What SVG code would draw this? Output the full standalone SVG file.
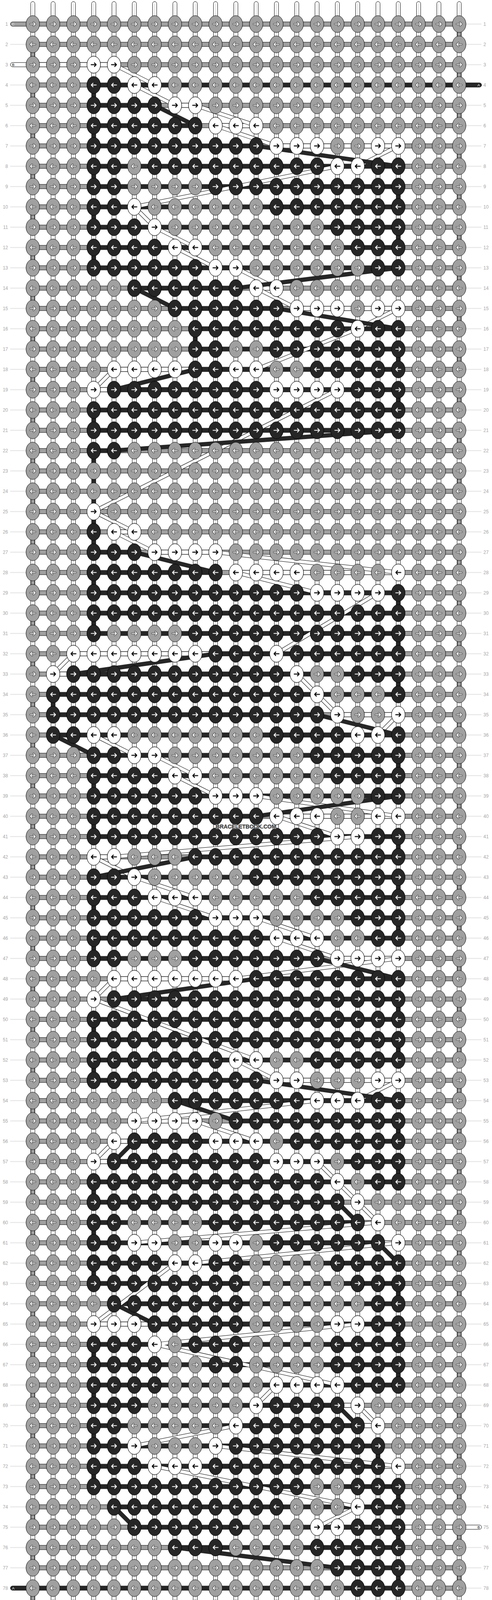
<svg xmlns="http://www.w3.org/2000/svg" width="1260" height="4232" viewBox="0 0 1260 4232">
<style>
.eg{fill:#a0a0a0;stroke:#000;stroke-width:1}
.ed{fill:#262626;stroke:#000;stroke-width:1}
.ew{fill:#fff;stroke:#000;stroke-width:1}
.ao{fill:none;stroke:#303030;stroke-width:4.2;stroke-linecap:round;stroke-linejoin:round}
.aw{fill:none;stroke:#fff;stroke-width:2.1;stroke-linecap:round;stroke-linejoin:round}
.ab{fill:none;stroke:#000;stroke-width:2.4;stroke-linecap:round;stroke-linejoin:round}
.dR{fill:url(#pdR)}.dL{fill:url(#pdL)}.wR{fill:url(#pwR)}.wL{fill:url(#pwL)}
.bw{fill:#fff;stroke:#000;stroke-width:1}
.bd{fill:#262626}
.cA{fill:none;stroke:#262626;stroke-width:11}
.cBo{fill:none;stroke:#000;stroke-width:10}
.cBi{fill:none;stroke:#fff;stroke-width:8}
.sg{fill:#a0a0a0;stroke:#000}.sw{fill:#fff;stroke:#000}.sd{fill:#262626;stroke:#000}
.num{font-family:"Liberation Sans",Arial,sans-serif;font-size:12px;fill:#a6a6a6}
.lab{font-family:"Liberation Sans",Arial,sans-serif;font-size:9.5px;text-anchor:middle}
</style>
<defs>
<path id="aR" d="M-6.5 0H6M1.8-4.6L6.3 0 1.8 4.6"/>
<path id="aL" d="M6.5 0H-6M-1.8-4.6L-6.3 0-1.8 4.6"/>
<g id="kGR"><ellipse class="eg" rx="17.3" ry="21.6"/><use href="#aR" class="ao"/><use href="#aR" class="aw"/></g>
<g id="kGL"><ellipse class="eg" rx="17.3" ry="21.6"/><use href="#aL" class="ao"/><use href="#aL" class="aw"/></g>
<g id="kDR"><ellipse class="ed" rx="17.3" ry="21.6"/><use href="#aR" class="aw"/></g>
<g id="kDL"><ellipse class="ed" rx="17.3" ry="21.6"/><use href="#aL" class="aw"/></g>
<g id="kWR"><ellipse class="ew" rx="17.3" ry="21.6"/><use href="#aR" class="ab"/></g>
<g id="kWL"><ellipse class="ew" rx="17.3" ry="21.6"/><use href="#aL" class="ab"/></g>
<pattern id="pkg" patternUnits="userSpaceOnUse" x="-26" y="26" width="52" height="104"><use href="#kGR" x="26" y="26"/><use href="#kGL" x="26" y="78"/></pattern>
<pattern id="pdR" patternUnits="userSpaceOnUse" x="-26" y="-26" width="52" height="52"><use href="#kDR" x="26" y="26"/></pattern>
<pattern id="pdL" patternUnits="userSpaceOnUse" x="-26" y="-26" width="52" height="52"><use href="#kDL" x="26" y="26"/></pattern>
<pattern id="pwR" patternUnits="userSpaceOnUse" x="-26" y="-26" width="52" height="52"><use href="#kWR" x="26" y="26"/></pattern>
<pattern id="pwL" patternUnits="userSpaceOnUse" x="-26" y="-26" width="52" height="52"><use href="#kWL" x="26" y="26"/></pattern>
<pattern id="pgb" patternUnits="userSpaceOnUse" x="0" y="-26" width="52" height="52"><rect x="-1" y="20.5" width="54" height="11" fill="#a0a0a0" stroke="#000"/></pattern>
<pattern id="pcl" patternUnits="userSpaceOnUse" x="-5.3" y="104" width="10.6" height="104"><rect x="0.5" y="-1" width="9.6" height="54" fill="#a0a0a0" stroke="#000"/></pattern>
<pattern id="pcr" patternUnits="userSpaceOnUse" x="1086.7" y="52" width="10.6" height="104"><rect x="0.5" y="-1" width="9.6" height="54" fill="#a0a0a0" stroke="#000"/></pattern>
<pattern id="pnl" patternUnits="userSpaceOnUse" x="0" y="26" width="52" height="52"><path d="M-1 26H53" stroke="#c4c4c4" stroke-width="1"/></pattern>
<g id="warp"><rect x="-5.3" y="-5.6" width="10.6" height="4223" rx="5.3" fill="#fff" stroke="#000"/><path d="M0-1V4213" stroke="#bdbdbd"/></g>
<path id="bcp" d="M208 156L312 208M260 208L364 260M416 260L572 312M468 312L624 364M936 364L832 416M780 416L260 520M260 520L312 572M312 572L416 624M364 624L468 676M520 676L624 728M572 728L676 780M936 780L832 832M832 832L572 936M208 936L156 988M780 988L156 1300M156 1300L260 1352M208 1352L312 1404M468 1404L936 1456M520 1456L728 1508M884 1508L624 1664M104 1664L52 1716M676 1716L728 1768M728 1768L780 1820M936 1820L884 1872M156 1872L260 1924M312 1924L416 1976M364 1976L468 2028M572 2028L936 2080M624 2080L780 2132M832 2132L208 2184M156 2184L260 2236M260 2236L416 2288M312 2288L468 2340M572 2340L728 2392M624 2392L780 2444M936 2444L520 2496M208 2496L156 2548M156 2548L572 2704M520 2704L624 2756M936 2756L832 2808M728 2808L260 2860M416 2860L572 2912M208 2912L156 2964M728 2964L780 3016M780 3016L832 3068M832 3068L884 3120M884 3120L260 3172M936 3172L416 3224M364 3224L156 3380M832 3380L312 3432M312 3432L780 3536M624 3536L572 3588M832 3588L884 3640M520 3640L260 3692M468 3692L936 3744M312 3744L832 3848M832 3848L728 3900"/>
</defs>
<rect width="1260" height="4232" fill="#fff"/>
<g transform="translate(84,9.6)">
<g id="row-lines"><rect x="-58" y="26" width="40" height="4160" fill="url(#pnl)"/><rect x="1110" y="26" width="39" height="4160" fill="url(#pnl)"/></g>
<g id="warps"><use href="#warp" x="0"/><use href="#warp" x="52"/><use href="#warp" x="104"/><use href="#warp" x="156"/><use href="#warp" x="208"/><use href="#warp" x="260"/><use href="#warp" x="312"/><use href="#warp" x="364"/><use href="#warp" x="416"/><use href="#warp" x="468"/><use href="#warp" x="520"/><use href="#warp" x="572"/><use href="#warp" x="624"/><use href="#warp" x="676"/><use href="#warp" x="728"/><use href="#warp" x="780"/><use href="#warp" x="832"/><use href="#warp" x="884"/><use href="#warp" x="936"/><use href="#warp" x="988"/><use href="#warp" x="1040"/><use href="#warp" x="1092"/></g>
<g id="row-bands">
<rect x="0" y="26" width="1092" height="4160" fill="url(#pgb)"/>
<g class="bw">
<rect x="0" y="150.5" width="208" height="11"/><rect x="260" y="202.5" width="52" height="11"/><rect x="364" y="254.5" width="52" height="11"/><rect x="468" y="306.5" width="104" height="11"/><rect x="624" y="358.5" width="312" height="11"/><rect x="780" y="410.5" width="52" height="11"/><rect x="364" y="618.5" width="52" height="11"/><rect x="468" y="670.5" width="52" height="11"/><rect x="572" y="722.5" width="52" height="11"/><rect x="676" y="774.5" width="260" height="11"/><rect x="208" y="930.5" width="364" height="11"/><rect x="156" y="982.5" width="624" height="11"/><rect x="208" y="1346.5" width="52" height="11"/><rect x="312" y="1398.5" width="156" height="11"/><rect x="520" y="1450.5" width="416" height="11"/><rect x="728" y="1502.5" width="156" height="11"/><rect x="104" y="1658.5" width="520" height="11"/><rect x="52" y="1710.5" width="624" height="11"/><rect x="780" y="1814.5" width="156" height="11"/><rect x="156" y="1866.5" width="728" height="11"/><rect x="260" y="1918.5" width="52" height="11"/><rect x="364" y="1970.5" width="52" height="11"/><rect x="468" y="2022.5" width="104" height="11"/><rect x="624" y="2074.5" width="312" height="11"/><rect x="780" y="2126.5" width="52" height="11"/><rect x="156" y="2178.5" width="52" height="11"/><rect x="312" y="2282.5" width="104" height="11"/><rect x="468" y="2334.5" width="104" height="11"/><rect x="624" y="2386.5" width="104" height="11"/><rect x="780" y="2438.5" width="156" height="11"/><rect x="208" y="2490.5" width="312" height="11"/><rect x="520" y="2698.5" width="52" height="11"/><rect x="624" y="2750.5" width="312" height="11"/><rect x="728" y="2802.5" width="104" height="11"/><rect x="260" y="2854.5" width="156" height="11"/><rect x="208" y="2906.5" width="364" height="11"/><rect x="156" y="2958.5" width="572" height="11"/><rect x="260" y="3166.5" width="676" height="11"/><rect x="364" y="3218.5" width="52" height="11"/><rect x="156" y="3374.5" width="676" height="11"/><rect x="624" y="3530.5" width="156" height="11"/><rect x="572" y="3582.5" width="260" height="11"/><rect x="520" y="3634.5" width="364" height="11"/><rect x="260" y="3686.5" width="208" height="11"/><rect x="312" y="3738.5" width="624" height="11"/><rect x="728" y="3894.5" width="364" height="11"/>
</g>
<g class="bd">
<rect x="156" y="202.5" width="936" height="11"/><rect x="156" y="254.5" width="156" height="11"/><rect x="156" y="306.5" width="260" height="11"/><rect x="156" y="358.5" width="416" height="11"/><rect x="156" y="410.5" width="780" height="11"/><rect x="156" y="462.5" width="780" height="11"/><rect x="156" y="514.5" width="780" height="11"/><rect x="156" y="566.5" width="780" height="11"/><rect x="156" y="618.5" width="780" height="11"/><rect x="156" y="670.5" width="780" height="11"/><rect x="260" y="722.5" width="260" height="11"/><rect x="364" y="774.5" width="260" height="11"/><rect x="416" y="826.5" width="520" height="11"/><rect x="416" y="878.5" width="520" height="11"/><rect x="416" y="930.5" width="520" height="11"/><rect x="208" y="982.5" width="728" height="11"/><rect x="156" y="1034.5" width="780" height="11"/><rect x="156" y="1086.5" width="780" height="11"/><rect x="156" y="1138.5" width="52" height="11"/><rect x="156" y="1398.5" width="104" height="11"/><rect x="156" y="1450.5" width="312" height="11"/><rect x="156" y="1502.5" width="780" height="11"/><rect x="156" y="1554.5" width="780" height="11"/><rect x="156" y="1606.5" width="780" height="11"/><rect x="468" y="1658.5" width="468" height="11"/><rect x="104" y="1710.5" width="832" height="11"/><rect x="52" y="1762.5" width="884" height="11"/><rect x="52" y="1814.5" width="676" height="11"/><rect x="52" y="1866.5" width="884" height="11"/><rect x="156" y="1918.5" width="780" height="11"/><rect x="156" y="1970.5" width="780" height="11"/><rect x="156" y="2022.5" width="780" height="11"/><rect x="156" y="2074.5" width="416" height="11"/><rect x="156" y="2126.5" width="780" height="11"/><rect x="416" y="2178.5" width="520" height="11"/><rect x="156" y="2230.5" width="780" height="11"/><rect x="156" y="2282.5" width="780" height="11"/><rect x="156" y="2334.5" width="780" height="11"/><rect x="156" y="2386.5" width="780" height="11"/><rect x="156" y="2438.5" width="572" height="11"/><rect x="572" y="2490.5" width="364" height="11"/><rect x="208" y="2542.5" width="728" height="11"/><rect x="156" y="2594.5" width="780" height="11"/><rect x="156" y="2646.5" width="780" height="11"/><rect x="156" y="2698.5" width="780" height="11"/><rect x="156" y="2750.5" width="416" height="11"/><rect x="364" y="2802.5" width="572" height="11"/><rect x="520" y="2854.5" width="416" height="11"/><rect x="260" y="2906.5" width="676" height="11"/><rect x="208" y="2958.5" width="728" height="11"/><rect x="156" y="3010.5" width="780" height="11"/><rect x="156" y="3062.5" width="624" height="11"/><rect x="156" y="3114.5" width="676" height="11"/><rect x="156" y="3166.5" width="728" height="11"/><rect x="156" y="3218.5" width="780" height="11"/><rect x="156" y="3270.5" width="780" height="11"/><rect x="208" y="3322.5" width="728" height="11"/><rect x="312" y="3374.5" width="624" height="11"/><rect x="156" y="3426.5" width="780" height="11"/><rect x="156" y="3478.5" width="780" height="11"/><rect x="156" y="3530.5" width="780" height="11"/><rect x="156" y="3582.5" width="624" height="11"/><rect x="156" y="3634.5" width="676" height="11"/><rect x="156" y="3686.5" width="728" height="11"/><rect x="156" y="3738.5" width="728" height="11"/><rect x="156" y="3790.5" width="780" height="11"/><rect x="208" y="3842.5" width="728" height="11"/><rect x="260" y="3894.5" width="676" height="11"/><rect x="364" y="3946.5" width="572" height="11"/><rect x="780" y="3998.5" width="156" height="11"/><rect x="0" y="4050.5" width="936" height="11"/>
</g>
</g>
<g id="connectors">
<rect x="-5.3" y="104" width="10.6" height="4004" fill="url(#pcl)"/>
<rect x="1086.7" y="52" width="10.6" height="4108" fill="url(#pcr)"/>
<use href="#bcp" class="cBo"/><use href="#bcp" class="cBi"/>
<path class="cA" d="M156 208V260M312 260L416 312M156 312V364M572 364L936 416M156 416V468M936 468V520M156 520V572M936 572V624M156 624V676M936 676L520 728M260 728L364 780M624 780L936 832M416 832V884M936 884V936M416 936L208 988M936 988V1040M156 1040V1092M936 1092L208 1144M156 1144V1352M156 1352V1404M260 1404L468 1456M156 1456V1508M936 1508V1560M156 1560V1612M936 1612V1664M468 1664L104 1716M936 1716V1768M52 1768V1820M728 1820L936 1872M52 1872L156 1924M936 1924V1976M156 1976V2028M936 2028L572 2080M156 2080V2132M936 2132V2184M416 2184L156 2236M936 2236V2288M156 2288V2340M936 2340V2392M156 2392V2444M728 2444L936 2496M572 2496L208 2548M936 2548V2600M156 2600V2652M936 2652V2704M156 2704V2756M572 2756L936 2808M364 2808L520 2860M936 2860V2912M260 2912L208 2964M936 2964V3016M156 3016V3068M780 3068L832 3120M156 3120V3172M884 3172L936 3224M156 3224V3276M936 3276V3328M208 3328L312 3380M936 3380V3432M156 3432V3484M936 3484V3536M156 3536V3588M780 3588L832 3640M156 3640V3692M884 3692V3744M156 3744V3796M936 3796V3848M208 3848L260 3900M936 3900V3952M364 3952L780 4004M936 4004V4056"/>
</g>
<g id="string-ends">
<path class="sg" d="M0 46.5H-51.8A5.5 5.5 0 0 0-51.8 57.5H0"/>
<path class="sw" d="M0 150.5H-51.8A5.5 5.5 0 0 0-51.8 161.5H0"/>
<path class="sd" d="M1092 202.5H1143.8A5.5 5.5 0 0 1 1143.8 213.5H1092"/>
<path class="sw" d="M1092 3894.5H1143.8A5.5 5.5 0 0 1 1143.8 3905.5H1092"/>
<path class="sd" d="M0 4050.5H-51.8A5.5 5.5 0 0 0-51.8 4061.5H0"/>
<path class="sg" d="M0 4154.5H-51.8A5.5 5.5 0 0 0-51.8 4165.5H0"/>
<text class="lab" x="-50" y="55.5" fill="#ececec">C</text>
<text class="lab" x="-50" y="159.5" fill="#000">B</text>
<text class="lab" x="1142" y="211.5" fill="#fff">A</text>
<text class="lab" x="1142" y="3903.5" fill="#000">B</text>
<text class="lab" x="-50" y="4059.5" fill="#fff">A</text>
<text class="lab" x="-50" y="4163.5" fill="#ececec">C</text>
</g>
<g id="knots">
<rect x="-26" y="26" width="1144" height="4160" fill="url(#pkg)"/>
<rect class="wR" x="130" y="130" width="104" height="52"/>
<rect class="dL" x="130" y="182" width="104" height="52"/><rect class="wL" x="234" y="182" width="104" height="52"/>
<rect class="dR" x="130" y="234" width="208" height="52"/><rect class="wR" x="338" y="234" width="104" height="52"/>
<rect class="dL" x="130" y="286" width="312" height="52"/><rect class="wL" x="442" y="286" width="156" height="52"/>
<rect class="dR" x="130" y="338" width="468" height="52"/><rect class="wR" x="598" y="338" width="156" height="52"/><rect class="wR" x="858" y="338" width="104" height="52"/>
<rect class="dL" x="130" y="390" width="104" height="52"/><rect class="dL" x="286" y="390" width="468" height="52"/><rect class="wL" x="754" y="390" width="104" height="52"/><rect class="dL" x="858" y="390" width="104" height="52"/>
<rect class="dR" x="130" y="442" width="104" height="52"/><rect class="dR" x="442" y="442" width="520" height="52"/>
<rect class="dL" x="130" y="494" width="104" height="52"/><rect class="wL" x="234" y="494" width="52" height="52"/><rect class="dL" x="598" y="494" width="364" height="52"/>
<rect class="dR" x="130" y="546" width="156" height="52"/><rect class="wR" x="286" y="546" width="52" height="52"/><rect class="dR" x="754" y="546" width="208" height="52"/>
<rect class="dL" x="130" y="598" width="208" height="52"/><rect class="wL" x="338" y="598" width="104" height="52"/><rect class="dL" x="806" y="598" width="156" height="52"/>
<rect class="dR" x="130" y="650" width="312" height="52"/><rect class="wR" x="442" y="650" width="104" height="52"/><rect class="dR" x="858" y="650" width="104" height="52"/>
<rect class="dL" x="234" y="702" width="312" height="52"/><rect class="wL" x="546" y="702" width="104" height="52"/>
<rect class="dR" x="338" y="754" width="312" height="52"/><rect class="wR" x="650" y="754" width="156" height="52"/><rect class="wR" x="858" y="754" width="104" height="52"/>
<rect class="dL" x="390" y="806" width="416" height="52"/><rect class="wL" x="806" y="806" width="52" height="52"/><rect class="dL" x="858" y="806" width="104" height="52"/>
<rect class="dR" x="390" y="858" width="104" height="52"/><rect class="dR" x="598" y="858" width="364" height="52"/>
<rect class="wL" x="182" y="910" width="208" height="52"/><rect class="dL" x="390" y="910" width="104" height="52"/><rect class="wL" x="494" y="910" width="104" height="52"/><rect class="dL" x="702" y="910" width="260" height="52"/>
<rect class="wR" x="130" y="962" width="52" height="52"/><rect class="dR" x="182" y="962" width="416" height="52"/><rect class="wR" x="598" y="962" width="208" height="52"/><rect class="dR" x="806" y="962" width="156" height="52"/>
<rect class="dL" x="130" y="1014" width="832" height="52"/>
<rect class="dR" x="130" y="1066" width="832" height="52"/>
<rect class="dL" x="130" y="1118" width="104" height="52"/>
<rect class="wR" x="130" y="1274" width="52" height="52"/>
<rect class="dL" x="130" y="1326" width="52" height="52"/><rect class="wL" x="182" y="1326" width="104" height="52"/>
<rect class="dR" x="130" y="1378" width="156" height="52"/><rect class="wR" x="286" y="1378" width="208" height="52"/>
<rect class="dL" x="130" y="1430" width="364" height="52"/><rect class="wL" x="494" y="1430" width="208" height="52"/><rect class="wL" x="910" y="1430" width="52" height="52"/>
<rect class="dR" x="130" y="1482" width="572" height="52"/><rect class="wR" x="702" y="1482" width="208" height="52"/><rect class="dR" x="910" y="1482" width="52" height="52"/>
<rect class="dL" x="130" y="1534" width="832" height="52"/>
<rect class="dR" x="130" y="1586" width="52" height="52"/><rect class="dR" x="390" y="1586" width="572" height="52"/>
<rect class="wL" x="78" y="1638" width="364" height="52"/><rect class="dL" x="442" y="1638" width="156" height="52"/><rect class="wL" x="598" y="1638" width="52" height="52"/><rect class="dL" x="650" y="1638" width="312" height="52"/>
<rect class="wR" x="26" y="1690" width="52" height="52"/><rect class="dR" x="78" y="1690" width="572" height="52"/><rect class="wR" x="650" y="1690" width="52" height="52"/><rect class="dR" x="806" y="1690" width="156" height="52"/>
<rect class="dL" x="26" y="1742" width="676" height="52"/><rect class="wL" x="702" y="1742" width="52" height="52"/><rect class="dL" x="910" y="1742" width="52" height="52"/>
<rect class="dR" x="26" y="1794" width="728" height="52"/><rect class="wR" x="754" y="1794" width="52" height="52"/><rect class="wR" x="910" y="1794" width="52" height="52"/>
<rect class="dL" x="26" y="1846" width="104" height="52"/><rect class="wL" x="130" y="1846" width="104" height="52"/><rect class="dL" x="598" y="1846" width="208" height="52"/><rect class="wL" x="806" y="1846" width="104" height="52"/><rect class="dL" x="910" y="1846" width="52" height="52"/>
<rect class="dR" x="130" y="1898" width="104" height="52"/><rect class="wR" x="234" y="1898" width="104" height="52"/><rect class="dR" x="702" y="1898" width="260" height="52"/>
<rect class="dL" x="130" y="1950" width="208" height="52"/><rect class="wL" x="338" y="1950" width="104" height="52"/><rect class="dL" x="754" y="1950" width="208" height="52"/>
<rect class="dR" x="130" y="2002" width="312" height="52"/><rect class="wR" x="442" y="2002" width="156" height="52"/><rect class="dR" x="858" y="2002" width="104" height="52"/>
<rect class="dL" x="130" y="2054" width="468" height="52"/><rect class="wL" x="598" y="2054" width="156" height="52"/><rect class="wL" x="858" y="2054" width="104" height="52"/>
<rect class="dR" x="130" y="2106" width="624" height="52"/><rect class="wR" x="754" y="2106" width="104" height="52"/><rect class="dR" x="858" y="2106" width="104" height="52"/>
<rect class="wL" x="130" y="2158" width="104" height="52"/><rect class="dL" x="390" y="2158" width="572" height="52"/>
<rect class="dR" x="130" y="2210" width="104" height="52"/><rect class="wR" x="234" y="2210" width="52" height="52"/><rect class="dR" x="546" y="2210" width="416" height="52"/>
<rect class="dL" x="130" y="2262" width="156" height="52"/><rect class="wL" x="286" y="2262" width="156" height="52"/><rect class="dL" x="702" y="2262" width="260" height="52"/>
<rect class="dR" x="130" y="2314" width="312" height="52"/><rect class="wR" x="442" y="2314" width="156" height="52"/><rect class="dR" x="806" y="2314" width="156" height="52"/>
<rect class="dL" x="130" y="2366" width="468" height="52"/><rect class="wL" x="598" y="2366" width="156" height="52"/><rect class="dL" x="858" y="2366" width="104" height="52"/>
<rect class="dR" x="130" y="2418" width="104" height="52"/><rect class="dR" x="390" y="2418" width="364" height="52"/><rect class="wR" x="754" y="2418" width="208" height="52"/>
<rect class="wL" x="182" y="2470" width="364" height="52"/><rect class="dL" x="546" y="2470" width="416" height="52"/>
<rect class="wR" x="130" y="2522" width="52" height="52"/><rect class="dR" x="182" y="2522" width="780" height="52"/>
<rect class="dL" x="130" y="2574" width="832" height="52"/>
<rect class="dR" x="130" y="2626" width="832" height="52"/>
<rect class="dL" x="130" y="2678" width="364" height="52"/><rect class="wL" x="494" y="2678" width="104" height="52"/><rect class="dL" x="702" y="2678" width="260" height="52"/>
<rect class="dR" x="130" y="2730" width="468" height="52"/><rect class="wR" x="598" y="2730" width="104" height="52"/><rect class="wR" x="858" y="2730" width="104" height="52"/>
<rect class="dL" x="338" y="2782" width="364" height="52"/><rect class="wL" x="702" y="2782" width="156" height="52"/><rect class="dL" x="858" y="2782" width="104" height="52"/>
<rect class="wR" x="234" y="2834" width="208" height="52"/><rect class="dR" x="494" y="2834" width="468" height="52"/>
<rect class="wL" x="182" y="2886" width="52" height="52"/><rect class="dL" x="234" y="2886" width="208" height="52"/><rect class="wL" x="442" y="2886" width="156" height="52"/><rect class="dL" x="650" y="2886" width="312" height="52"/>
<rect class="wR" x="130" y="2938" width="52" height="52"/><rect class="dR" x="182" y="2938" width="416" height="52"/><rect class="wR" x="598" y="2938" width="156" height="52"/><rect class="dR" x="806" y="2938" width="156" height="52"/>
<rect class="dL" x="130" y="2990" width="624" height="52"/><rect class="wL" x="754" y="2990" width="52" height="52"/><rect class="dL" x="858" y="2990" width="104" height="52"/>
<rect class="dR" x="130" y="3042" width="676" height="52"/><rect class="wR" x="806" y="3042" width="52" height="52"/>
<rect class="dL" x="130" y="3094" width="104" height="52"/><rect class="dL" x="442" y="3094" width="416" height="52"/><rect class="wL" x="858" y="3094" width="52" height="52"/>
<rect class="dR" x="130" y="3146" width="104" height="52"/><rect class="wR" x="234" y="3146" width="104" height="52"/><rect class="wR" x="442" y="3146" width="104" height="52"/><rect class="dR" x="598" y="3146" width="312" height="52"/><rect class="wR" x="910" y="3146" width="52" height="52"/>
<rect class="dL" x="130" y="3198" width="208" height="52"/><rect class="wL" x="338" y="3198" width="104" height="52"/><rect class="dL" x="442" y="3198" width="104" height="52"/><rect class="dL" x="754" y="3198" width="208" height="52"/>
<rect class="dR" x="130" y="3250" width="416" height="52"/><rect class="dR" x="806" y="3250" width="156" height="52"/>
<rect class="dL" x="182" y="3302" width="364" height="52"/><rect class="dL" x="858" y="3302" width="104" height="52"/>
<rect class="wR" x="130" y="3354" width="156" height="52"/><rect class="dR" x="286" y="3354" width="260" height="52"/><rect class="wR" x="754" y="3354" width="104" height="52"/><rect class="dR" x="858" y="3354" width="104" height="52"/>
<rect class="dL" x="130" y="3406" width="156" height="52"/><rect class="wL" x="286" y="3406" width="52" height="52"/><rect class="dL" x="390" y="3406" width="156" height="52"/><rect class="dL" x="754" y="3406" width="208" height="52"/>
<rect class="dR" x="130" y="3458" width="208" height="52"/><rect class="dR" x="442" y="3458" width="104" height="52"/><rect class="dR" x="754" y="3458" width="208" height="52"/>
<rect class="dL" x="130" y="3510" width="208" height="52"/><rect class="wL" x="598" y="3510" width="208" height="52"/><rect class="dL" x="806" y="3510" width="156" height="52"/>
<rect class="dR" x="130" y="3562" width="156" height="52"/><rect class="wR" x="546" y="3562" width="52" height="52"/><rect class="dR" x="598" y="3562" width="208" height="52"/><rect class="wR" x="806" y="3562" width="52" height="52"/>
<rect class="dL" x="130" y="3614" width="104" height="52"/><rect class="wL" x="494" y="3614" width="52" height="52"/><rect class="dL" x="546" y="3614" width="312" height="52"/><rect class="wL" x="858" y="3614" width="52" height="52"/>
<rect class="dR" x="130" y="3666" width="104" height="52"/><rect class="wR" x="234" y="3666" width="52" height="52"/><rect class="wR" x="442" y="3666" width="52" height="52"/><rect class="dR" x="494" y="3666" width="416" height="52"/>
<rect class="dL" x="130" y="3718" width="156" height="52"/><rect class="wL" x="286" y="3718" width="156" height="52"/><rect class="dL" x="442" y="3718" width="468" height="52"/><rect class="wL" x="910" y="3718" width="52" height="52"/>
<rect class="dR" x="130" y="3770" width="572" height="52"/><rect class="dR" x="806" y="3770" width="156" height="52"/>
<rect class="dL" x="182" y="3822" width="468" height="52"/><rect class="wL" x="806" y="3822" width="52" height="52"/><rect class="dL" x="858" y="3822" width="104" height="52"/>
<rect class="dR" x="234" y="3874" width="312" height="52"/><rect class="wR" x="702" y="3874" width="104" height="52"/><rect class="dR" x="806" y="3874" width="156" height="52"/>
<rect class="dL" x="338" y="3926" width="156" height="52"/><rect class="dL" x="702" y="3926" width="260" height="52"/>
<rect class="dR" x="754" y="3978" width="208" height="52"/>
<rect class="dL" x="806" y="4030" width="156" height="52"/>
</g>
<g id="row-numbers-left" class="num" text-anchor="end" transform="translate(-63.5,4.3)"><text y="52">1</text><text y="104">2</text><text y="156">3</text><text y="208">4</text><text y="260">5</text><text y="312">6</text><text y="364">7</text><text y="416">8</text><text y="468">9</text><text y="520">10</text><text y="572">11</text><text y="624">12</text><text y="676">13</text><text y="728">14</text><text y="780">15</text><text y="832">16</text><text y="884">17</text><text y="936">18</text><text y="988">19</text><text y="1040">20</text><text y="1092">21</text><text y="1144">22</text><text y="1196">23</text><text y="1248">24</text><text y="1300">25</text><text y="1352">26</text><text y="1404">27</text><text y="1456">28</text><text y="1508">29</text><text y="1560">30</text><text y="1612">31</text><text y="1664">32</text><text y="1716">33</text><text y="1768">34</text><text y="1820">35</text><text y="1872">36</text><text y="1924">37</text><text y="1976">38</text><text y="2028">39</text><text y="2080">40</text><text y="2132">41</text><text y="2184">42</text><text y="2236">43</text><text y="2288">44</text><text y="2340">45</text><text y="2392">46</text><text y="2444">47</text><text y="2496">48</text><text y="2548">49</text><text y="2600">50</text><text y="2652">51</text><text y="2704">52</text><text y="2756">53</text><text y="2808">54</text><text y="2860">55</text><text y="2912">56</text><text y="2964">57</text><text y="3016">58</text><text y="3068">59</text><text y="3120">60</text><text y="3172">61</text><text y="3224">62</text><text y="3276">63</text><text y="3328">64</text><text y="3380">65</text><text y="3432">66</text><text y="3484">67</text><text y="3536">68</text><text y="3588">69</text><text y="3640">70</text><text y="3692">71</text><text y="3744">72</text><text y="3796">73</text><text y="3848">74</text><text y="3900">75</text><text y="3952">76</text><text y="4004">77</text><text y="4056">78</text><text y="4108">79</text><text y="4160">80</text></g>
<g id="row-numbers-right" class="num" transform="translate(1154,4.3)"><text y="52">1</text><text y="104">2</text><text y="156">3</text><text y="208">4</text><text y="260">5</text><text y="312">6</text><text y="364">7</text><text y="416">8</text><text y="468">9</text><text y="520">10</text><text y="572">11</text><text y="624">12</text><text y="676">13</text><text y="728">14</text><text y="780">15</text><text y="832">16</text><text y="884">17</text><text y="936">18</text><text y="988">19</text><text y="1040">20</text><text y="1092">21</text><text y="1144">22</text><text y="1196">23</text><text y="1248">24</text><text y="1300">25</text><text y="1352">26</text><text y="1404">27</text><text y="1456">28</text><text y="1508">29</text><text y="1560">30</text><text y="1612">31</text><text y="1664">32</text><text y="1716">33</text><text y="1768">34</text><text y="1820">35</text><text y="1872">36</text><text y="1924">37</text><text y="1976">38</text><text y="2028">39</text><text y="2080">40</text><text y="2132">41</text><text y="2184">42</text><text y="2236">43</text><text y="2288">44</text><text y="2340">45</text><text y="2392">46</text><text y="2444">47</text><text y="2496">48</text><text y="2548">49</text><text y="2600">50</text><text y="2652">51</text><text y="2704">52</text><text y="2756">53</text><text y="2808">54</text><text y="2860">55</text><text y="2912">56</text><text y="2964">57</text><text y="3016">58</text><text y="3068">59</text><text y="3120">60</text><text y="3172">61</text><text y="3224">62</text><text y="3276">63</text><text y="3328">64</text><text y="3380">65</text><text y="3432">66</text><text y="3484">67</text><text y="3536">68</text><text y="3588">69</text><text y="3640">70</text><text y="3692">71</text><text y="3744">72</text><text y="3796">73</text><text y="3848">74</text><text y="3900">75</text><text y="3952">76</text><text y="4004">77</text><text y="4056">78</text><text y="4108">79</text><text y="4160">80</text></g>
</g>
<text id="watermark" x="630" y="2121" text-anchor="middle" font-family="'Liberation Sans',Arial,sans-serif" font-size="14" font-weight="bold" fill="#3a3a3a" stroke="#d0d0d0" stroke-width="1.5" paint-order="stroke">BRACELETBOOK.COM</text>
</svg>
